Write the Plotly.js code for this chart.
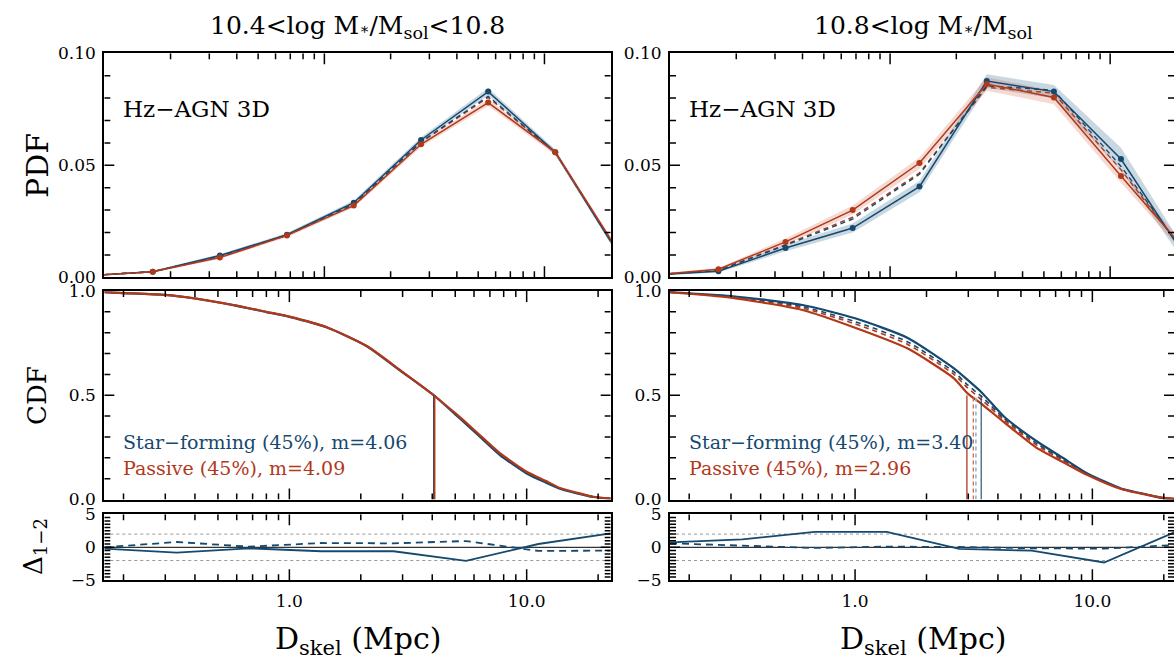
<!DOCTYPE html>
<html>
<head>
<meta charset="utf-8">
<script src="https://cdn.plot.ly/plotly-3.0.1.min.js"></script>
<style>html,body{margin:0;padding:0;background:#fff;overflow:hidden}</style>
</head>
<body>
<div id="chart" style="width:1174px;height:661px"></div>
<script>
// ---------------- DATA ----------------
const pdfX = [0.0823, 0.166, 0.335, 0.676, 1.36, 2.75, 5.55, 11.2, 22.6];
const pdfL_sf      = [0.0007, 0.0025, 0.0097, 0.0190, 0.0333, 0.0613, 0.0829, 0.0558, 0.0075];
const pdfL_pas     = [0.0007, 0.0025, 0.0088, 0.0187, 0.0320, 0.0594, 0.0780, 0.0558, 0.0088];
const pdfL_sfDash  = [0.0007, 0.0025, 0.0093, 0.0188, 0.0327, 0.0605, 0.0808, 0.0558, 0.0080];
const pdfL_pasDash = [0.0007, 0.0025, 0.0092, 0.0188, 0.0325, 0.0603, 0.0803, 0.0558, 0.0082];
const pdfL_sfErr   = [0.0003, 0.0004, 0.0006, 0.0008, 0.0010, 0.0012, 0.0016, 0.0013, 0.0010];
const pdfL_pasErr  = [0.0003, 0.0004, 0.0006, 0.0008, 0.0010, 0.0012, 0.0015, 0.0012, 0.0010];
const pdfR_sf      = [0.0010, 0.0027, 0.0131, 0.0220, 0.0405, 0.0876, 0.0829, 0.0528, 0.0073];
const pdfR_pas     = [0.0010, 0.0036, 0.0158, 0.0300, 0.0510, 0.0863, 0.0803, 0.0452, 0.0107];
const pdfR_sfDash  = [0.0010, 0.0030, 0.0143, 0.0260, 0.0460, 0.0855, 0.0835, 0.0495, 0.0090];
const pdfR_pasDash = [0.0010, 0.0031, 0.0146, 0.0268, 0.0466, 0.0848, 0.0822, 0.0480, 0.0092];
const pdfR_sfErr   = [0.0004, 0.0006, 0.0015, 0.0020, 0.0025, 0.0030, 0.0030, 0.0050, 0.0030];
const pdfR_pasErr  = [0.0004, 0.0006, 0.0015, 0.0020, 0.0025, 0.0030, 0.0030, 0.0030, 0.0020];

const cdfL_x   = [0.166, 0.2, 0.3, 0.4, 0.58, 0.8, 1.0, 1.44, 2.12, 2.93, 4.06, 5.0, 5.6, 6.5, 7.74, 10, 12, 13.8, 16, 19.1, 22.6];
const cdfL_pas = [0.994, 0.990, 0.981, 0.965, 0.933, 0.900, 0.877, 0.826, 0.736, 0.621, 0.500, 0.414, 0.365, 0.298, 0.221, 0.133, 0.090, 0.055, 0.035, 0.013, 0.005];
const cdfL_sf  = [0.994, 0.990, 0.981, 0.964, 0.932, 0.899, 0.876, 0.825, 0.735, 0.618, 0.500, 0.408, 0.358, 0.290, 0.212, 0.125, 0.082, 0.052, 0.032, 0.012, 0.004];
const cdfR_x   = [0.166, 0.3, 0.6, 1.0, 1.66, 2.61, 2.97, 3.44, 4.25, 5.87, 7.5, 9.53, 13.2, 17, 20.1, 22.6];
const cdfR_sf      = [0.994, 0.976, 0.933, 0.869, 0.776, 0.629, 0.575, 0.510, 0.397, 0.277, 0.200, 0.125, 0.053, 0.024, 0.005, 0.002];
const cdfR_pas     = [0.994, 0.968, 0.909, 0.824, 0.725, 0.581, 0.510, 0.455, 0.370, 0.245, 0.180, 0.117, 0.050, 0.022, 0.008, 0.003];
const cdfR_sfDash  = [0.994, 0.973, 0.925, 0.853, 0.757, 0.612, 0.551, 0.490, 0.388, 0.266, 0.192, 0.122, 0.052, 0.023, 0.006, 0.002];
const cdfR_pasDash = [0.994, 0.971, 0.918, 0.842, 0.745, 0.600, 0.537, 0.475, 0.381, 0.258, 0.188, 0.120, 0.051, 0.023, 0.007, 0.002];

const medL = {sf: 4.06, pas: 4.09};
const medR = {sf: 3.40, pas: 2.96, sfDash: 3.23, pasDash: 3.15};

const dX = [0.166, 0.335, 0.676, 1.36, 2.75, 5.55, 11.2, 22.6];
const dL_solid = [-0.2, -0.8, -0.15, -0.6, -0.6, -2.05, 0.5, 2.1];
const dL_dash  = [0.0, 0.8, 0.1, 0.65, 0.6, 0.95, -0.55, -0.5];
const dR_solid = [0.75, 1.2, 2.35, 2.35, -0.25, -0.5, -2.3, 2.4];
const dR_dash  = [0.6, 0.2, -0.1, 0.1, 0.05, -0.15, -0.2, 0.35];

const xTickVals = [0.1, 1, 10], xTickText = ['0.1', '1.0', '10.0'];
const pdfTickVals = [0, 0.05, 0.1], pdfTickText = ['0.00', '0.05', '0.10'];
const cdfTickVals = [0, 0.5, 1], cdfTickText = ['0.0', '0.5', '1.0'];
const dTickVals = [-5, 0, 5], dTickText = ['−5', '0', '5'];

const titles = ['10.4&lt;log M<span style="font-size:15px">∗</span>/M<sub>sol</sub>&lt;10.8',
                '10.8&lt;log M<span style="font-size:15px">∗</span>/M<sub>sol</sub>'];
const labelsL = ['Star−forming (45%), m=4.06', 'Passive (45%), m=4.09'];
const labelsR = ['Star−forming (45%), m=3.40', 'Passive (45%), m=2.96'];

// ---------------- STYLE ----------------
const BLUE = '#15496f', RED = '#b2381a';
const BLUE_BAND = 'rgba(40,95,135,0.25)', RED_BAND = 'rgba(205,85,55,0.22)';
const FONT = 'DejaVu Serif';
const W = 1174, H = 661;
const py = p => 1 - p / H, px = p => p / W;

const PX = {left: [104.3, 610.7], right: [670, 1174], pdf: [53.3, 277.3], cdf: [291, 499.5], d: [514.3, 580.3]};
const xdomL = [px(PX.left[0]), px(PX.left[1])], xdomR = [px(PX.right[0]), 1];
const ydom = {pdf: [py(PX.pdf[1]), py(PX.pdf[0])], cdf: [py(PX.cdf[1]), py(PX.cdf[0])], d: [py(PX.d[1]), py(PX.d[0])]};
const rangePdfL = [-1, Math.log10(20)];
const rangePdfR = [-1, -1 + (Math.log10(20) + 1) * (504 / 506.4)];
const rangeCdfL = [Math.log10(0.166), Math.log10(22.6)];
const rangeCdfR = [rangeCdfL[0], rangeCdfL[0] + (rangeCdfL[1] - rangeCdfL[0]) * (504 / 506.4)];

const logMinor = [];
[0.01, 0.1, 1, 10].forEach(d => { for (let k = 2; k <= 9; k++) logMinor.push(+(k * d).toPrecision(3)); });
function linMinor(a, b, s) { const o = []; for (let v = a; v <= b + 1e-9; v += s) o.push(+v.toFixed(4)); return o; }

const TF = {family: FONT, size: 17, color: 'black'};
function xax(domain, range, anchor, labels) {
  return {type: 'log', domain, range, anchor, showline: true, linecolor: 'black', linewidth: 2,
    mirror: true, ticks: '', tickmode: 'array', tickvals: xTickVals, ticktext: xTickText,
    showticklabels: labels, tickfont: TF, ticklabelstandoff: 4, showgrid: false, zeroline: false};
}
function yax(domain, range, anchor, vals, text) {
  return {domain, range, anchor, showline: true, linecolor: 'black', linewidth: 2,
    mirror: true, ticks: '', tickmode: 'array', tickvals: vals, ticktext: text,
    tickfont: TF, ticklabelstandoff: 3, showgrid: false, zeroline: false};
}

const traces = [];
function band(x, y, e, color, xa, ya) {
  traces.push({x, y: y.map((v, i) => v + e[i]), xaxis: xa, yaxis: ya, mode: 'lines', line: {width: 0}, hoverinfo: 'skip', showlegend: false});
  traces.push({x, y: y.map((v, i) => v - e[i]), xaxis: xa, yaxis: ya, mode: 'lines', line: {width: 0}, fill: 'tonexty', fillcolor: color, hoverinfo: 'skip', showlegend: false});
}
function line(x, y, color, width, dash, xa, ya, markers, smooth) {
  traces.push({x, y, xaxis: xa, yaxis: ya, mode: markers ? 'lines+markers' : 'lines',
    line: {color, width, dash: dash || 'solid', shape: smooth ? 'spline' : 'linear', smoothing: 0.6},
    marker: {color, size: 6}, showlegend: false});
}

[[pdfL_sf, pdfL_pas, pdfL_sfDash, pdfL_pasDash, pdfL_sfErr, pdfL_pasErr, 'x', 'y'],
 [pdfR_sf, pdfR_pas, pdfR_sfDash, pdfR_pasDash, pdfR_sfErr, pdfR_pasErr, 'x4', 'y4']].forEach(p => {
  const [sf, pas, sfD, pasD, sfE, pasE, xa, ya] = p;
  band(pdfX, sf, sfE, BLUE_BAND, xa, ya);
  band(pdfX, pas, pasE, RED_BAND, xa, ya);
  line(pdfX, pasD, RED, 1.4, '5px,4px', xa, ya);
  line(pdfX, sfD, BLUE, 1.4, '5px,4px', xa, ya);
  line(pdfX, sf, BLUE, 1.5, null, xa, ya, true);
  line(pdfX, pas, RED, 1.5, null, xa, ya, true);
});

line(cdfL_x, cdfL_sf, BLUE, 2.2, null, 'x2', 'y2', false, true);
line(cdfL_x, cdfL_pas, RED, 2.2, null, 'x2', 'y2', false, true);
line([medL.sf, medL.sf], [0, 0.5], BLUE, 1.5, null, 'x2', 'y2');
line([medL.pas, medL.pas], [0, 0.5], RED, 1.8, null, 'x2', 'y2');

line(cdfR_x, cdfR_sfDash, BLUE, 1.6, '5px,4px', 'x5', 'y5', false, true);
line(cdfR_x, cdfR_pasDash, RED, 1.6, '5px,4px', 'x5', 'y5', false, true);
line(cdfR_x, cdfR_sf, BLUE, 2.2, null, 'x5', 'y5', false, true);
line(cdfR_x, cdfR_pas, RED, 2.2, null, 'x5', 'y5', false, true);
line([medR.pas, medR.pas], [0, 0.5], RED, 1.3, null, 'x5', 'y5');
line([medR.pasDash, medR.pasDash], [0, 0.5], '#d06a4c', 1.3, '4px,3px', 'x5', 'y5');
line([medR.sfDash, medR.sfDash], [0, 0.5], '#9bb5c8', 1.6, '4px,3px', 'x5', 'y5');
line([medR.sf, medR.sf], [0, 0.5], BLUE, 1.1, null, 'x5', 'y5');

[['x3', 'y3', dL_solid, dL_dash, rangeCdfL], ['x6', 'y6', dR_solid, dR_dash, rangeCdfR]].forEach(p => {
  const [xa, ya, s, d, r] = p;
  const ends = [Math.pow(10, r[0]), Math.pow(10, r[1])];
  traces.push({x: ends, y: [2, 2], xaxis: xa, yaxis: ya, mode: 'lines', line: {color: '#999', width: 1, dash: 'dot'}, showlegend: false});
  traces.push({x: ends, y: [-2, -2], xaxis: xa, yaxis: ya, mode: 'lines', line: {color: '#999', width: 1, dash: 'dot'}, showlegend: false});
  traces.push({x: ends, y: [0, 0], xaxis: xa, yaxis: ya, mode: 'lines', line: {color: '#333', width: 1.2}, showlegend: false});
  line(dX, d, BLUE, 1.8, '7px,5px', xa, ya);
  line(dX, s, BLUE, 1.8, null, xa, ya);
});

// inward tick marks on all four sides, drawn as line segments in each panel's own scale
function tickTrace(xa, ya, xr, yr, wpx, hpx, xMaj, yMaj, yMinStep) {
  const X = [], Y = [];
  const dy = L => L / hpx * (yr[1] - yr[0]);
  const dxl = L => L / wpx * (xr[1] - xr[0]);
  const xs = xMaj.map(v => [v, true]).concat(logMinor.map(v => [v, false]));
  xs.forEach(([v, maj]) => {
    const lv = Math.log10(v);
    if (lv <= xr[0] + 0.003 || lv >= xr[1] - 0.003) return;
    const L = maj ? 11 : 6;
    X.push(v, v, null); Y.push(yr[0], yr[0] + dy(L), null);
    X.push(v, v, null); Y.push(yr[1], yr[1] - dy(L), null);
  });
  const ys = yMaj.map(v => [v, true]).concat(linMinor(yr[0], yr[1], yMinStep)
    .filter(v => !yMaj.some(m => Math.abs(m - v) < 1e-9)).map(v => [v, false]));
  ys.forEach(([v, maj]) => {
    const f = (v - yr[0]) / (yr[1] - yr[0]);
    if (f < 0.002 || f > 0.998) return;
    const L = maj ? 10 : 6;
    X.push(Math.pow(10, xr[0]), Math.pow(10, xr[0] + dxl(L)), null); Y.push(v, v, null);
    X.push(Math.pow(10, xr[1]), Math.pow(10, xr[1] - dxl(L)), null); Y.push(v, v, null);
  });
  traces.push({x: X, y: Y, xaxis: xa, yaxis: ya, mode: 'lines', connectgaps: false,
    line: {color: 'black', width: 1.5}, hoverinfo: 'skip', showlegend: false});
}
const wL = PX.left[1] - PX.left[0], wR = PX.right[1] - PX.right[0];
const hP = PX.pdf[1] - PX.pdf[0], hC = PX.cdf[1] - PX.cdf[0], hD = PX.d[1] - PX.d[0];
tickTrace('x', 'y', rangePdfL, [0, 0.1], wL, hP, xTickVals, pdfTickVals, 0.01);
tickTrace('x2', 'y2', rangeCdfL, [0, 1], wL, hC, xTickVals, cdfTickVals, 0.1);
tickTrace('x3', 'y3', rangeCdfL, [-5, 5], wL, hD, xTickVals, dTickVals, 0.5);
tickTrace('x4', 'y4', rangePdfR, [0, 0.1], wR, hP, xTickVals, pdfTickVals, 0.01);
tickTrace('x5', 'y5', rangeCdfR, [0, 1], wR, hC, xTickVals, cdfTickVals, 0.1);
tickTrace('x6', 'y6', rangeCdfR, [-5, 5], wR, hD, xTickVals, dTickVals, 0.5);

const ann = [];
function txt(text, x, y, size, color, opts) {
  ann.push(Object.assign({text, x, y, xref: 'paper', yref: 'paper', showarrow: false,
    font: {family: FONT, size, color}, xanchor: 'center', yanchor: 'middle'}, opts || {}));
}
txt(titles[0], px(357.5), py(27), 25, 'black');
txt(titles[1], px(923), py(27), 25, 'black');
txt('Hz−AGN 3D', px(121), py(109), 23, 'black', {xanchor: 'left'});
txt('Hz−AGN 3D', px(687), py(109), 23, 'black', {xanchor: 'left'});
txt(labelsL[0], px(121), py(442), 19, BLUE, {xanchor: 'left'});
txt(labelsL[1], px(121), py(468), 19, RED, {xanchor: 'left'});
txt(labelsR[0], px(687), py(442), 19, BLUE, {xanchor: 'left'});
txt(labelsR[1], px(687), py(468), 19, RED, {xanchor: 'left'});
txt('PDF', px(37), py(165), 30, 'black', {textangle: -90});
txt('CDF', px(37), py(395), 26, 'black', {textangle: -90});
txt('Δ<sub>1−2</sub>', px(34), py(547), 26, 'black', {textangle: -90});
txt('D<sub>skel</sub> (Mpc)', px(357.5), py(640), 30, 'black');
txt('D<sub>skel</sub> (Mpc)', px(923), py(640), 30, 'black');

const layout = {
  width: W, height: H, margin: {l: 0, r: 0, t: 0, b: 0},
  paper_bgcolor: 'white', plot_bgcolor: 'white', showlegend: false,
  font: {family: FONT, color: 'black'},
  xaxis: xax(xdomL, rangePdfL, 'y', false),
  yaxis: yax(ydom.pdf, [0, 0.1], 'x', pdfTickVals, pdfTickText),
  xaxis2: xax(xdomL, rangeCdfL, 'y2', false),
  yaxis2: yax(ydom.cdf, [0, 1], 'x2', cdfTickVals, cdfTickText),
  xaxis3: xax(xdomL, rangeCdfL, 'y3', true),
  yaxis3: yax(ydom.d, [-5, 5], 'x3', dTickVals, dTickText),
  xaxis4: xax(xdomR, rangePdfR, 'y4', false),
  yaxis4: yax(ydom.pdf, [0, 0.1], 'x4', pdfTickVals, pdfTickText),
  xaxis5: xax(xdomR, rangeCdfR, 'y5', false),
  yaxis5: yax(ydom.cdf, [0, 1], 'x5', cdfTickVals, cdfTickText),
  xaxis6: xax(xdomR, rangeCdfR, 'y6', true),
  yaxis6: yax(ydom.d, [-5, 5], 'x6', dTickVals, dTickText),
  annotations: ann
};
Plotly.newPlot('chart', traces, layout, {displayModeBar: false});
</script>
</body>
</html>
